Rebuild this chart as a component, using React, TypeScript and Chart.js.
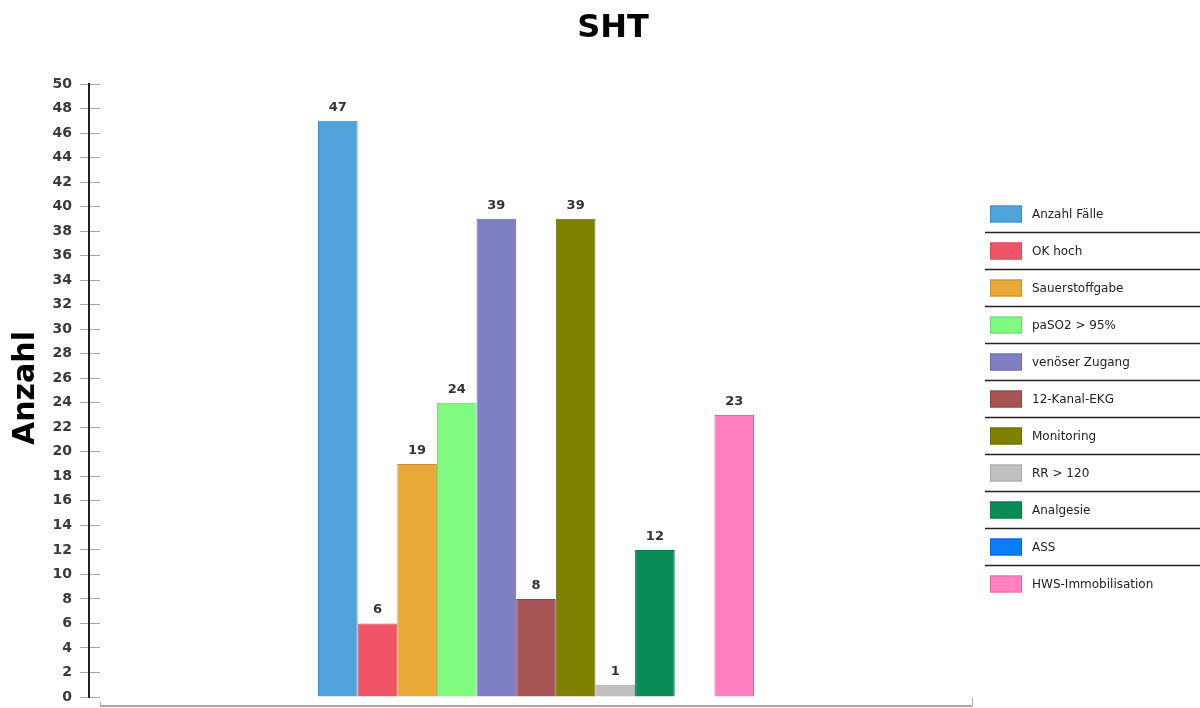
import React, { useEffect, useRef } from "react";
import { Chart, registerables } from "chart.js";

Chart.register(...registerables);

const chartTitle = "SHT";
const yAxisTitle = "Anzahl";
const categories = [""];
const seriesNames = [
  "Anzahl Fälle",
  "OK hoch",
  "Sauerstoffgabe",
  "paSO2 > 95%",
  "venöser Zugang",
  "12-Kanal-EKG",
  "Monitoring",
  "RR > 120",
  "Analgesie",
  "ASS",
  "HWS-Immobilisation",
];
const seriesValues = [47, 6, 19, 24, 39, 8, 39, 1, 12, 0, 23];
const seriesColors = [
  "#4fa3da",
  "#ef5566",
  "#e8a838",
  "#80fb80",
  "#7f7fc4",
  "#a65454",
  "#808000",
  "#c0c0c0",
  "#0a8c58",
  "#0a7cf5",
  "#ff80c0",
];
const seriesBorders = [
  "#3f8fc4",
  "#d84656",
  "#c99030",
  "#6ad86a",
  "#6a6aae",
  "#8e4444",
  "#6b6b00",
  "#a8a8a8",
  "#087448",
  "#0866cc",
  "#e06aa8",
];
const yMin = 0;
const yMax = 50;
const yStep = 2;

const FONT = "'DejaVu Sans', Verdana, sans-serif";

const decorPlugin = {
  id: "decor",
  afterDraw(chart: any) {
    const ctx = chart.ctx;
    const area = chart.chartArea;
    ctx.save();

    // Title
    ctx.fillStyle = "#000";
    ctx.font = `bold 32px ${FONT}`;
    ctx.textAlign = "center";
    ctx.textBaseline = "middle";
    ctx.fillText(chartTitle, 613, 29);

    // Y axis title
    ctx.save();
    ctx.translate(26, 388);
    ctx.rotate(-Math.PI / 2);
    ctx.font = `bold 30px ${FONT}`;
    ctx.fillStyle = "#000";
    ctx.fillText(yAxisTitle, 0, 0);
    ctx.restore();

    // Y axis line
    ctx.strokeStyle = "#222";
    ctx.lineWidth = 2;
    ctx.beginPath();
    ctx.moveTo(89, area.top - 1);
    ctx.lineTo(89, area.bottom + 1);
    ctx.stroke();

    // X axis line
    ctx.strokeStyle = "#8a8a8a";
    ctx.lineWidth = 1.5;
    ctx.beginPath();
    ctx.moveTo(area.left, 706);
    ctx.lineTo(area.right, 706);
    ctx.stroke();
    ctx.lineWidth = 1;
    ctx.strokeStyle = "#b0b0b0";
    ctx.beginPath();
    ctx.moveTo(area.left + 0.5, 702);
    ctx.lineTo(area.left + 0.5, 706);
    ctx.moveTo(area.right + 0.5, 698);
    ctx.lineTo(area.right + 0.5, 706);
    ctx.stroke();

    // Value labels
    ctx.font = `bold 13px ${FONT}`;
    ctx.fillStyle = "#333";
    ctx.textAlign = "center";
    ctx.textBaseline = "alphabetic";
    chart.data.datasets.forEach((ds: any, i: number) => {
      const meta = chart.getDatasetMeta(i);
      meta.data.forEach((bar: any, j: number) => {
        const v = ds.data[j];
        if (!v) return;
        ctx.fillText(String(v), bar.x, bar.y - 10);
      });
    });

    // Legend
    const lx = 990;
    const firstY = 214;
    const rowH = 37;
    ctx.font = `12px ${FONT}`;
    ctx.textBaseline = "middle";
    ctx.textAlign = "left";
    chart.data.datasets.forEach((ds: any, i: number) => {
      const cy = firstY + i * rowH;
      ctx.fillStyle = ds.backgroundColor;
      ctx.fillRect(lx, cy - 8.5, 32, 17);
      ctx.strokeStyle = ds.borderColor;
      ctx.lineWidth = 1;
      ctx.strokeRect(lx + 0.5, cy - 8, 31, 16);
      ctx.fillStyle = "#222";
      ctx.fillText(ds.label, 1032, cy + 1);
      if (i < chart.data.datasets.length - 1) {
        ctx.strokeStyle = "#222";
        ctx.lineWidth = 1.5;
        ctx.beginPath();
        ctx.moveTo(985, cy + 18.5);
        ctx.lineTo(1200, cy + 18.5);
        ctx.stroke();
      }
    });

    ctx.restore();
  },
};

export default function App() {
  const canvasRef = useRef<HTMLCanvasElement | null>(null);

  useEffect(() => {
    document.body.style.margin = "0";
    document.body.style.overflow = "hidden";
    const canvas = canvasRef.current;
    if (!canvas) return;
    const chart = new Chart(canvas, {
      type: "bar",
      data: {
        labels: categories,
        datasets: seriesNames.map((name, i) => ({
          label: name,
          data: [seriesValues[i]],
          backgroundColor: seriesColors[i],
          borderColor: seriesBorders[i],
          borderWidth: 1,
          categoryPercentage: 0.5,
          barPercentage: 1,
        })),
      },
      options: {
        responsive: false,
        animation: false,
        devicePixelRatio: 1,
        layout: {
          padding: { top: 84, bottom: 11, left: 0, right: 228 },
        },
        plugins: {
          legend: { display: false },
          title: { display: false },
          tooltip: { enabled: false },
        },
        scales: {
          x: {
            display: false,
          },
          y: {
            min: yMin,
            max: yMax,
            border: { display: false },
            grid: {
              drawOnChartArea: false,
              drawTicks: true,
              tickLength: 20,
              color: "#a8a8a8",
              lineWidth: 1,
            },
            ticks: {
              stepSize: yStep,
              padding: 8,
              color: "#3a3a3a",
              font: { family: FONT, size: 14, weight: "bold" },
            },
            afterFit(scale: any) {
              scale.width = 100;
              scale.paddingTop = 0;
              scale.paddingBottom = 0;
            },
          },
        },
      },
      plugins: [decorPlugin],
    });
    return () => chart.destroy();
  }, []);

  return (
    <div style={{ width: 1200, height: 708 }}>
      <canvas ref={canvasRef} width={1200} height={708} />
    </div>
  );
}
